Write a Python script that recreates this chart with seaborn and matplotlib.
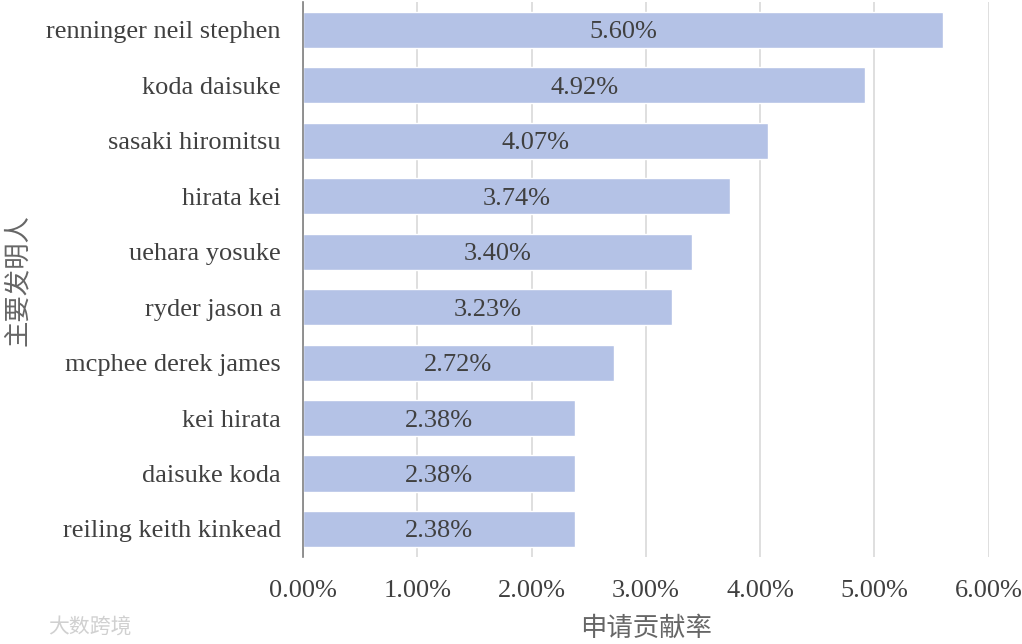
import matplotlib
matplotlib.use("Agg")
import matplotlib.pyplot as plt
import seaborn as sns
import pandas as pd

inventors = ["renninger neil stephen", "koda daisuke", "sasaki hiromitsu", "hirata kei",
             "uehara yosuke", "ryder jason a", "mcphee derek james", "kei hirata",
             "daisuke koda", "reiling keith kinkead"]
rates = [5.60, 4.92, 4.07, 3.74, 3.40, 3.23, 2.72, 2.38, 2.38, 2.38]
xticks = [0, 1, 2, 3, 4, 5, 6]

df = pd.DataFrame({"inventor": inventors, "rate": rates})

sns.set_theme(style="white")
serif = ["Liberation Serif", "DejaVu Serif"]
cjk = ["Noto Sans CJK SC", "DejaVu Sans"]
plt.rcParams["font.family"] = serif

fig = plt.figure(figsize=(10.22, 6.44), dpi=100)
ax = fig.add_axes([0.2965, 0.1356, 0.671, 0.861])
sns.barplot(data=df, y="inventor", x="rate", orient="h", color="#b4c2e6",
            saturation=1, width=0.65, ax=ax)

ax.set_xlim(0, 6.0)
ax.set_ylim(9.5, -0.5)
ax.set_xticks(xticks)
ax.set_xticklabels([f"{v:.2f}%" for v in xticks], fontsize=19, color="#404040")
ax.tick_params(axis="x", length=0, pad=17)
ax.tick_params(axis="y", length=0, pad=16, labelsize=19, labelcolor="#404040")
ax.grid(axis="x", color="#d9d9d9", linewidth=1.2)
ax.set_axisbelow(True)
for s in ["top", "right", "bottom"]:
    ax.spines[s].set_visible(False)
ax.spines["left"].set_color("#7f7f7f")
ax.spines["left"].set_linewidth(1.2)

for i, v in enumerate(rates):
    ax.text(v / 2, i, f"{v:.2f}%", ha="center", va="center_baseline",
            fontsize=19, color="#404040")

ax.set_xlabel("")
ax.set_ylabel("")
fig.text(0.632, 0.025, "申请贡献率", family=cjk, fontsize=19, color="#666666",
         ha="center", va="center")
fig.text(0.017, 0.565, "主要发明人", family=cjk, fontsize=19, color="#666666",
         ha="center", va="center", rotation=90)

fig.text(0.047, 0.025, "大数跨境", family=cjk, fontsize=15, color="#d0d0d0",
         va="center")

fig.savefig("out.png", dpi=100)
